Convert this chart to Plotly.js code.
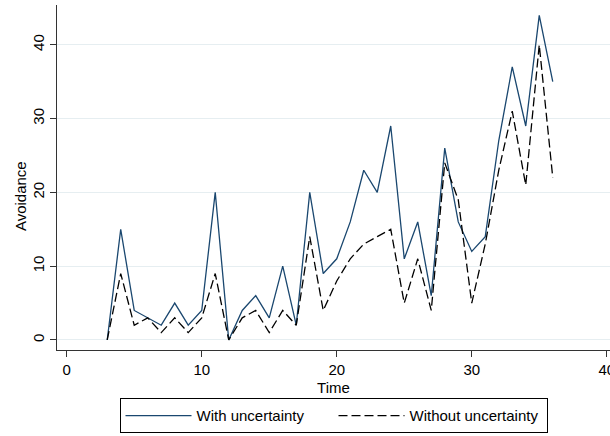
<!DOCTYPE html>
<html>
<head>
<meta charset="utf-8">
<script src="https://cdn.plot.ly/plotly-3.0.1.min.js"></script>
<style>html,body{margin:0;padding:0;background:#fff;}#chart{width:610px;height:436px;}</style>
</head>
<body>
<div id="chart"></div>
<script>
var time = [3,4,5,6,7,8,9,10,11,12,13,14,15,16,17,18,19,20,21,22,23,24,25,26,27,28,29,30,31,32,33,34,35,36];
var withUncertainty = [0,15,4,3,2,5,2,4,20,0,4,6,3,10,2,20,9,11,16,23,20,29,11,16,6,26,16,12,14,27,37,29,44,35];
var withoutUncertainty = [0,9,2,3,1,3,1,3,9,0,3,4,1,4,2,14,4,8,11,13,14,15,5,11,4,24,19,5,13,23,31,21,40,22];
var xTicks = [0,10,20,30,40];
var yTicks = [0,10,20,30,40];
var seriesNames = ["With uncertainty","Without uncertainty"];

var fontFam = "Liberation Sans, Arial, sans-serif";
var traces = [
  {x: time, y: withUncertainty, type: "scatter", mode: "lines", name: seriesNames[0],
   line: {color: "#1a476f", width: 1.3}},
  {x: time, y: withoutUncertainty, type: "scatter", mode: "lines", name: seriesNames[1],
   line: {color: "#000000", width: 1.3, dash: "9px,4px"}}
];
var layout = {
  width: 610, height: 436,
  margin: {l: 57, r: 0, t: 5, b: 86},
  paper_bgcolor: "#ffffff", plot_bgcolor: "#ffffff",
  font: {family: fontFam, size: 15, color: "#000"},
  showlegend: true,
  legend: {orientation: "h", x: 0.5, xanchor: "center", xref: "paper", y: 0.006, yanchor: "bottom", yref: "container",
    bordercolor: "#000", borderwidth: 1, font: {family: fontFam, size: 15}, itemwidth: 66, entrywidth: 132,
    entrywidthmode: "pixels", tracegroupgap: 0},
  xaxis: {range: [-0.72, 40.24], tickvals: xTicks, ticktext: xTicks.map(String), ticks: "outside", ticklen: 6,
    tickcolor: "#333", showline: true, linecolor: "#333", linewidth: 1, showgrid: false, zeroline: false,
    ticklabeloverflow: "allow", tickfont: {size: 15}, title: {text: "Time", font: {size: 15}, standoff: 5}},
  yaxis: {range: [-1.36, 45.4], tickvals: yTicks, ticktext: yTicks.map(String), ticks: "outside", ticklen: 6,
    tickcolor: "#333", showline: true, linecolor: "#333", linewidth: 1, showgrid: true, gridcolor: "#e6eef1",
    gridwidth: 1, zeroline: false, tickangle: -90, tickfont: {size: 15}},
  annotations: [{text: "Avoidance", xref: "paper", yref: "y", x: 0, y: 19.5, xanchor: "center", yanchor: "middle",
    xshift: -37, textangle: -90, showarrow: false, font: {size: 15}}]
};
Plotly.newPlot("chart", traces, layout, {displayModeBar: false, staticPlot: true});
</script>
</body>
</html>
